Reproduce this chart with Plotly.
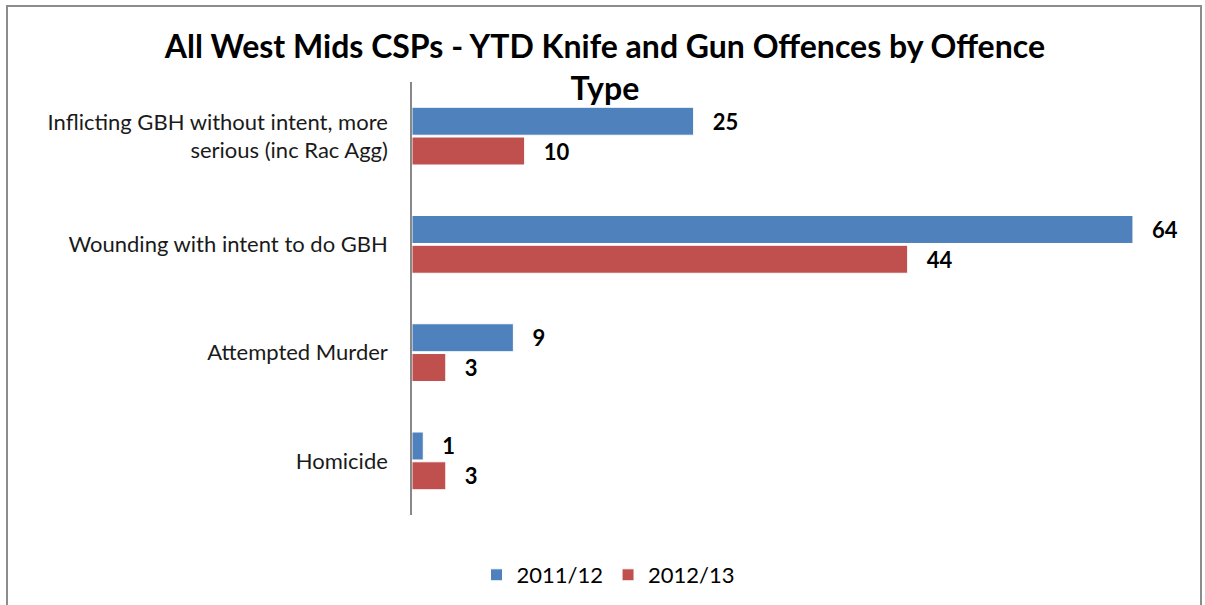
import plotly.graph_objects as go

# Offence categories, top to bottom
categories = [
    "Inflicting GBH without intent, more<br>serious (inc Rac Agg)",
    "Wounding with intent to do GBH",
    "Attempted Murder",
    "Homicide",
]
series_names = ["2011/12", "2012/13"]
values_2011_12 = [25, 64, 9, 1]
values_2012_13 = [10, 44, 3, 3]

colors = ["#4F81BD", "#C0504D"]
font_family = "Lato, 'Open Sans', sans-serif"

W, H = 1205, 605
ml, mr, mt, mb = 412, 45, 82, 90
pw = W - ml - mr
ph = H - mt - mb

fig = go.Figure()
for name, vals, col in zip(series_names, [values_2011_12, values_2012_13], colors):
    fig.add_trace(go.Bar(
        y=categories,
        x=vals,
        name=name,
        orientation="h",
        marker=dict(color=col, line=dict(color="white", width=1)),
        text=vals,
        texttemplate="   %{x}",
        textposition="outside",
        textfont=dict(family=font_family, size=22, color="#000000", weight="bold"),
        cliponaxis=False,
    ))

# Outer chart frame
def px_x(p):
    return (p - ml) / pw

def px_y(p):
    return (H - mb - p) / ph

fig.add_shape(
    type="rect", xref="paper", yref="paper",
    x0=px_x(7), x1=px_x(1201), y0=px_y(612), y1=px_y(6),
    line=dict(color="#8C8C8C", width=2), fillcolor="rgba(0,0,0,0)", layer="below",
)

fig.update_layout(
    width=W, height=H,
    margin=dict(l=ml, r=mr, t=mt, b=mb),
    paper_bgcolor="white", plot_bgcolor="white",
    barmode="group", bargap=0.45, bargroupgap=0.06,
    title=dict(
        text="<b>All West Mids CSPs - YTD Knife and Gun Offences by Offence<br>Type</b>",
        x=0.502, xref="container", xanchor="center",
        y=1 - 58 / H, yref="container", yanchor="top",
        font=dict(family=font_family, size=32, color="#000000"),
    ),
    xaxis=dict(range=[0, 66.4], showgrid=False, zeroline=False, showticklabels=False,
               showline=False, ticks=""),
    yaxis=dict(autorange="reversed", showgrid=False, zeroline=False, showline=True,
               linecolor="#888888", linewidth=1.5, ticks="", ticklabelstandoff=18,
               tickfont=dict(family=font_family, size=22, color="#1a1a1a")),
    legend=dict(
        orientation="h", xref="container", x=0.505, xanchor="center",
        yref="container", y=1 - 575 / H, yanchor="middle",
        font=dict(family=font_family, size=22, color="#000000"),
        itemwidth=30, traceorder="normal",
    ),
    showlegend=True,
)

fig.write_html("out.html")
